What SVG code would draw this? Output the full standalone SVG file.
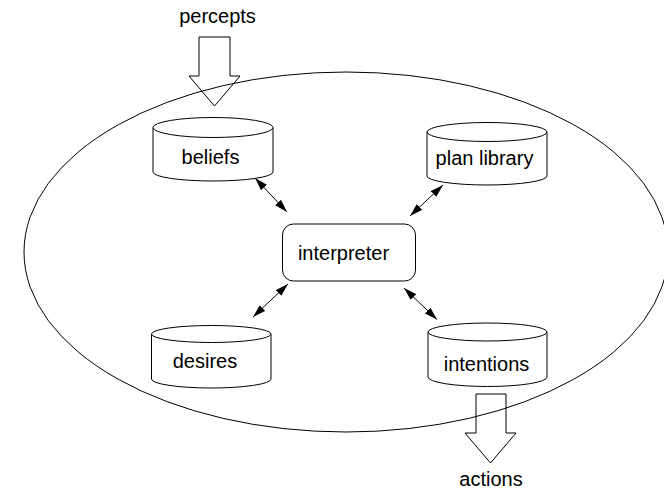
<svg xmlns="http://www.w3.org/2000/svg" width="664" height="490" viewBox="0 0 664 490">
<style>
.s{fill:none;stroke:#000;stroke-width:1}
.c{fill:#fff;stroke:#000;stroke-width:1}
.t{font-family:"Liberation Sans",Arial,sans-serif;font-size:20px;fill:#000;text-anchor:middle}
.l{stroke:#000;stroke-width:1;fill:none;marker-start:url(#ah);marker-end:url(#ah)}
</style>
<defs>
<marker id="ah" viewBox="0 0 13 8" refX="13" refY="4" markerWidth="13" markerHeight="8" markerUnits="userSpaceOnUse" orient="auto-start-reverse">
<path d="M0,0 L13,4 L0,8 Z" fill="#000"/>
</marker>
</defs>
<g id="agent-boundary">
<ellipse class="s" cx="346" cy="252" rx="322" ry="180"/>
</g>
<g id="percepts">
<path class="s" d="M199,37 L230,37 L230,76 L240,76 L214.5,106 L189,76 L199,76 Z"/>
<text class="t" x="217.5" y="23">percepts</text>
</g>
<g id="actions">
<path class="s" d="M476,394 L506,394 L506,433 L516,433 L490.5,463 L465,433 L476,433 Z"/>
<text class="t" x="491" y="486">actions</text>
</g>
<g id="beliefs">
<path class="c" d="M153,127.5 L153,172 A60,9 0 0 0 273,172 L273,127.5 Z"/>
<ellipse class="c" cx="213" cy="127.5" rx="60" ry="10"/>
<text class="t" x="210.5" y="164">beliefs</text>
</g>
<g id="plan-library">
<path class="c" d="M427,132 L427,176 A60,9 0 0 0 547,176 L547,132 Z"/>
<ellipse class="c" cx="487" cy="132" rx="60" ry="9.5"/>
<text class="t" x="484.5" y="165">plan library</text>
</g>
<g id="desires">
<path class="c" d="M151.5,334 L151.5,379 A59.75,9 0 0 0 271,379 L271,334 Z"/>
<ellipse class="c" cx="211.25" cy="334" rx="59.75" ry="8.5"/>
<text class="t" x="205" y="368">desires</text>
</g>
<g id="intentions">
<path class="c" d="M428,332 L428,377 A59.5,9.5 0 0 0 547,377 L547,332 Z"/>
<ellipse class="c" cx="487.5" cy="332" rx="59.5" ry="9"/>
<text class="t" x="486.5" y="370.5">intentions</text>
</g>
<g id="interpreter">
<rect class="c" x="282.5" y="224" width="133" height="57" rx="11" ry="11"/>
<text class="t" x="343.5" y="259.5">interpreter</text>
</g>
<g id="connectors">
<line class="l" x1="255" y1="178" x2="287" y2="212"/>
<line class="l" x1="443" y1="185" x2="410" y2="216"/>
<line class="l" x1="288" y1="284" x2="253" y2="317"/>
<line class="l" x1="404" y1="288" x2="437" y2="319.5"/>
</g>
</svg>
